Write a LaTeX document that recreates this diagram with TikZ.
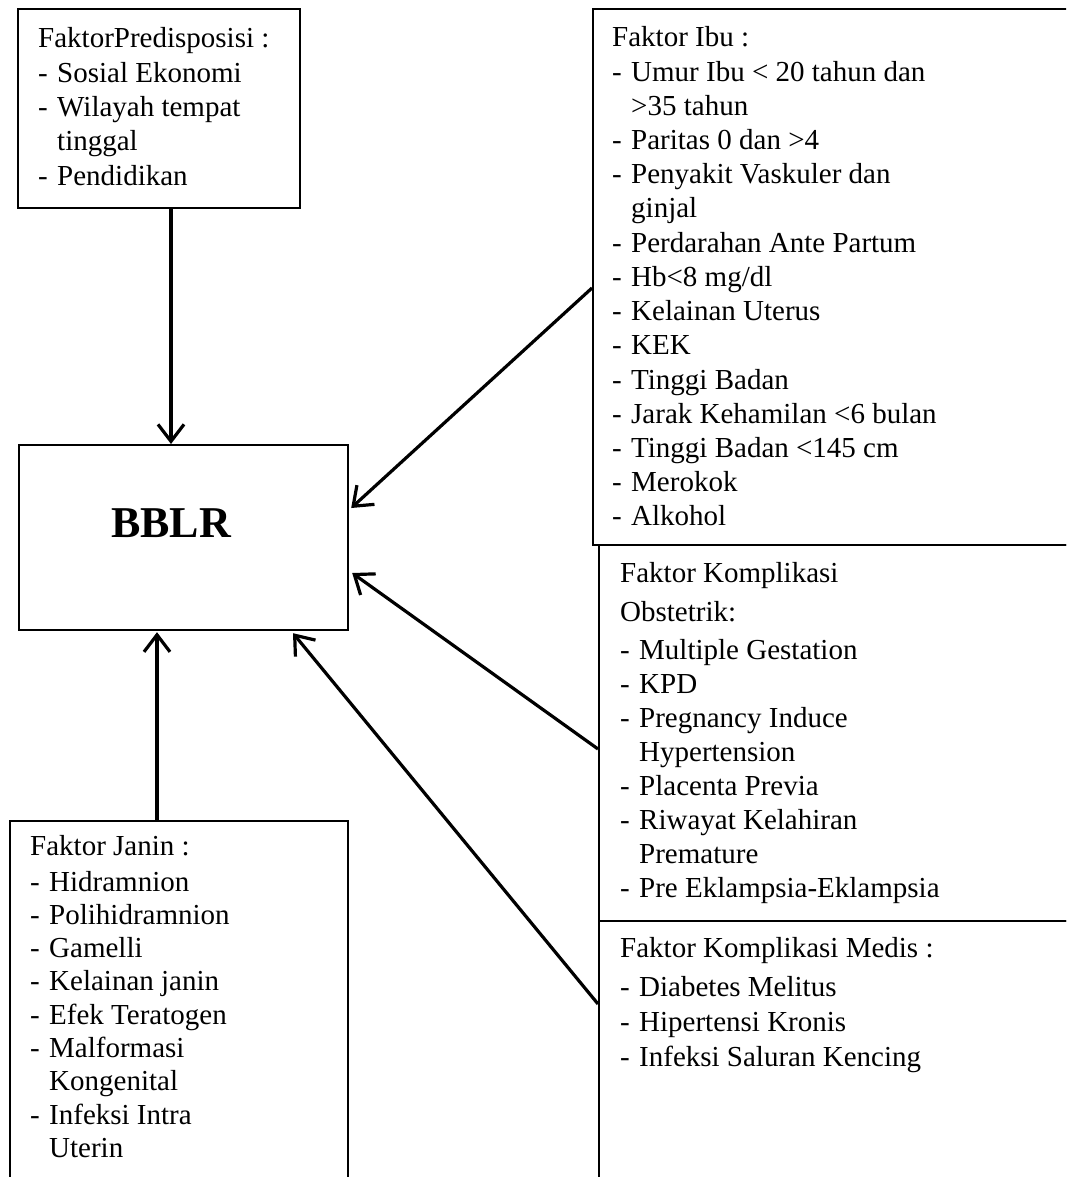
\documentclass[tikz,border=0pt]{standalone}
\usepackage{fontspec}
\setmainfont{Liberation Serif}
\usetikzlibrary{arrows.meta,calc}
\newcommand\dsh[1]{\makebox[19pt][l]{-}#1}
\newcommand\cnt[1]{\hspace*{19pt}#1}
\begin{document}
\begin{tikzpicture}[x=1pt,y=-1pt,
  box/.style={draw, line width=2.2pt, anchor=north west, inner sep=0pt},
  txt/.style={anchor=base west, inner sep=0pt, font=\fontsize{29}{34}\selectfont},
  arr/.style={line width=3.2pt, -{Straight Barb[length=17pt,width=26pt]}}]
\useasboundingbox (0,0) rectangle (1066,1177);
\clip (0,0) rectangle (1066,1177);
% boxes
\node[box, minimum width=282pt, minimum height=199pt] (pre) at (17,8) {};
\node[box, minimum width=329pt, minimum height=185pt] (bblr) at (18,444) {};
\node[box, minimum width=520pt, minimum height=536pt] (ibu) at (592,8) {};
\node[box, minimum width=520pt, minimum height=376pt] (obs) at (598,544) {};
\node[box, minimum width=520pt, minimum height=320pt] (med) at (598,920) {};
\node[box, minimum width=338pt, minimum height=420pt] (janin) at (9,820) {};
% BBLR label
\node[anchor=base west, inner sep=0pt, font=\bfseries\fontsize{44}{50}\selectfont] (bblrtxt) at (111,537) {BBLR};
% texts
\foreach \t [count=\i from 0] in {FaktorPredisposisi :, \dsh{Sosial Ekonomi}, \dsh{Wilayah tempat}, \cnt{tinggal}, \dsh{Pendidikan}}
  \node[txt] (pre\i) at (38,{48+34.3*\i}) {\t};
\foreach \t [count=\i from 0] in {Faktor Ibu :, \dsh{Umur Ibu < 20 tahun dan}, \cnt{>35 tahun}, \dsh{Paritas 0 dan >4}, \dsh{Penyakit Vaskuler dan}, \cnt{ginjal}, \dsh{Perdarahan Ante Partum}, \dsh{Hb<8 mg/dl}, \dsh{Kelainan Uterus}, \dsh{KEK}, \dsh{Tinggi Badan}, \dsh{Jarak Kehamilan <6 bulan}, \dsh{Tinggi Badan <145 cm}, \dsh{Merokok}, \dsh{Alkohol}}
  \node[txt] (ibu\i) at (612,{47+34.2*\i}) {\t};
\node[txt] (obsh1) at (620,582) {Faktor Komplikasi};
\node[txt] (obsh2) at (620,621) {Obstetrik:};
\foreach \t [count=\i from 0] in {\dsh{Multiple Gestation}, \dsh{KPD}, \dsh{Pregnancy Induce}, \cnt{Hypertension}, \dsh{Placenta Previa}, \dsh{Riwayat Kelahiran}, \cnt{Premature}, \dsh{Pre Eklampsia-Eklampsia}}
  \node[txt] (obs\i) at (620,{659+34.1*\i}) {\t};
\node[txt] (medh) at (620,957) {Faktor Komplikasi Medis :};
\foreach \t [count=\i from 0] in {\dsh{Diabetes Melitus}, \dsh{Hipertensi Kronis}, \dsh{Infeksi Saluran Kencing}}
  \node[txt] (med\i) at (620,{996+35*\i}) {\t};
\node[txt] (janh) at (30,855) {Faktor Janin :};
\foreach \t [count=\i from 0] in {\dsh{Hidramnion}, \dsh{Polihidramnion}, \dsh{Gamelli}, \dsh{Kelainan janin}, \dsh{Efek Teratogen}, \dsh{Malformasi}, \cnt{Kongenital}, \dsh{Infeksi Intra}, \cnt{Uterin}}
  \node[txt] (jan\i) at (30,{891+33.3*\i}) {\t};
% arrows
\draw[arr] ($(pre.south west)+(154,0)$) -- ($(bblr.north west)+(153,0)$);
\draw[arr] ($(ibu.north west)+(0,280)$) -- ($(bblr.north east)+(2,64)$);
\draw[arr] ($(obs.north west)+(0,205)$) -- ($(bblr.north east)+(3,129)$);
\draw[arr] ($(med.north west)+(0,84)$) -- ($(bblr.south west)+(275,2)$);
\draw[arr] ($(janin.north west)+(148,0)$) -- ($(bblr.south west)+(139,1)$);
\end{tikzpicture}
\end{document}
